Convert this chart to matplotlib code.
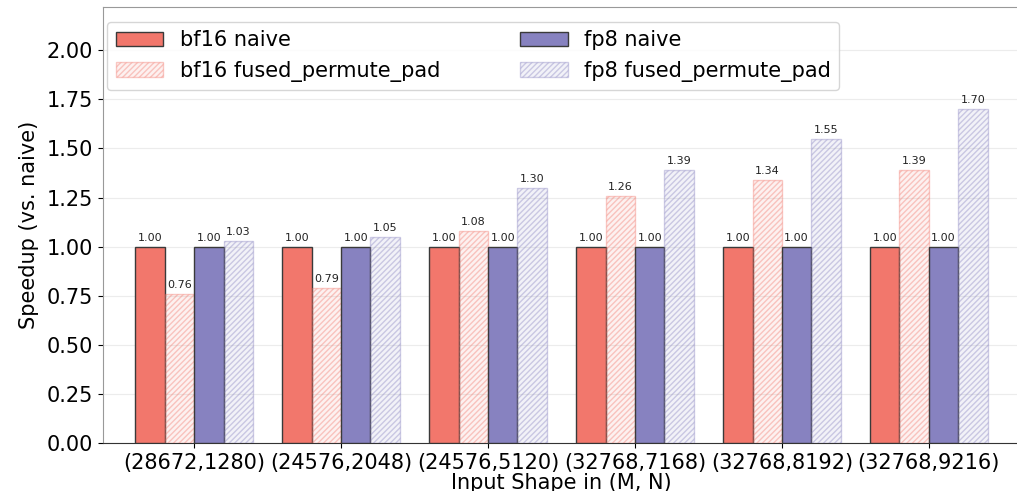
import numpy as np
import matplotlib
matplotlib.use('Agg')
import matplotlib.pyplot as plt
from matplotlib.colors import to_rgba

shapes = ['(28672,1280)', '(24576,2048)', '(24576,5120)',
          '(32768,7168)', '(32768,8192)', '(32768,9216)']
bf16_naive = [1.00, 1.00, 1.00, 1.00, 1.00, 1.00]
bf16_fused = [0.76, 0.79, 1.08, 1.26, 1.34, 1.39]
fp8_naive = [1.00, 1.00, 1.00, 1.00, 1.00, 1.00]
fp8_fused = [1.03, 1.05, 1.30, 1.39, 1.55, 1.70]

red = '#F2776C'
purple = '#8782C0'

fig = plt.figure(figsize=(10.17, 4.91), dpi=100)
ax = fig.add_axes([103 / 1017, 48 / 491, 917 / 1017, 436 / 491])

x = np.arange(len(shapes))
w = 0.2

series = [
    (bf16_naive, 'bf16 naive', red, False),
    (bf16_fused, 'bf16 fused_permute_pad', red, True),
    (fp8_naive, 'fp8 naive', purple, False),
    (fp8_fused, 'fp8 fused_permute_pad', purple, True),
]

for i, (vals, name, c, fused) in enumerate(series):
    pos = x + (i - 1.5) * w
    if fused:
        bars = ax.bar(pos, vals, w, facecolor=to_rgba(c, 0.10), edgecolor=to_rgba(c, 0.38),
                      hatch='//////', linewidth=1.0, label=name, zorder=3)
    else:
        bars = ax.bar(pos, vals, w, color=c, edgecolor='#3a3a3a', linewidth=1.0,
                      label=name, zorder=3)
    for b, v in zip(bars, vals):
        ax.text(b.get_x() + b.get_width() / 2, v + 0.02, f'{v:.2f}',
                ha='center', va='bottom', fontsize=8, color='#222222')

ax.set_xticks(x)
ax.set_xticklabels(shapes, fontsize=15)
ax.set_xlim(-0.62, 5.62)
ax.set_ylim(0, 2.22)
ax.set_yticks(np.arange(0, 2.01, 0.25))
ax.tick_params(axis='y', labelsize=15)
ax.set_ylabel('Speedup (vs. naive)', fontsize=15, labelpad=6)
ax.set_xlabel('Input Shape in (M, N)', fontsize=15, labelpad=0)
ax.yaxis.grid(True, color='#ececec', linewidth=0.8, zorder=0)
ax.set_axisbelow(True)
for s in ['top', 'left', 'right']:
    ax.spines[s].set_color('#999999')
ax.spines['bottom'].set_color('#333333')

ax.legend(loc='upper left', ncol=2, fontsize=15, bbox_to_anchor=(0.0, 0.975),
          columnspacing=3.8, handlelength=2.3, borderaxespad=0.2)

fig.savefig('out.png', dpi=100)
